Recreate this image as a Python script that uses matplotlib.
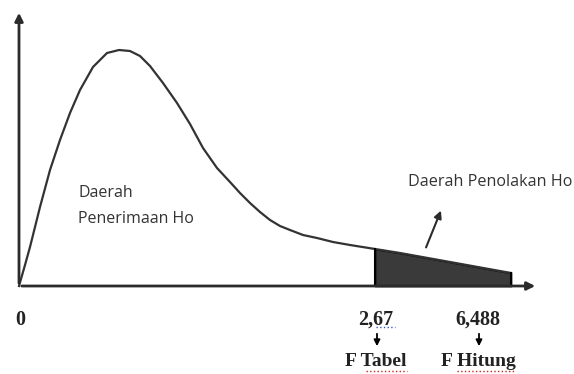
import matplotlib.pyplot as plt

# schematic F distribution curve (arbitrary units)
curve_x = [0.0, 0.6, 1.1, 2.1, 3.1, 4.1, 5.1, 6.1, 7.4, 8.8, 10.0, 11.1, 12.1,
           13.1, 14.4, 15.8, 17.1, 18.4, 19.8, 21.1, 22.1, 23.1, 24.1, 25.1,
           26.1, 27.1, 28.4, 29.8, 31.4, 33.1, 35.6, 38.1, 43.1, 49.2]
curve_y = [0.0, 2.1, 3.9, 7.9, 11.6, 14.6, 17.3, 19.6, 21.9, 23.3, 23.6, 23.5,
           23.0, 22.0, 20.3, 18.3, 16.2, 13.8, 11.8, 10.4, 9.3, 8.3, 7.4, 6.6,
           6.0, 5.6, 5.1, 4.8, 4.4, 4.1, 3.7, 3.3, 2.4, 1.3]

f_tabel = 35.6      # position of 2,67 on the sketch
f_hitung = 45.8     # position of 6,488 on the sketch
tick_labels = ["0", "2,67", "6,488"]
tick_pos = [0.0, f_tabel, f_hitung]
names = ["F Tabel", "F Hitung"]

dark = "#2b2b2b"

fig = plt.figure(figsize=(5.74, 3.74), dpi=100)
ax = fig.add_axes([0, 0, 1, 1])
ax.set_xlim(-1.9, 55.5)
ax.set_ylim(-8.8, 28.6)
ax.axis("off")

# axes with arrow heads
ax.annotate("", xy=(0, 27.6), xytext=(0, 0),
            arrowprops=dict(arrowstyle="-|>", color=dark, lw=2, mutation_scale=12))
ax.annotate("", xy=(51.9, 0), xytext=(0, 0),
            arrowprops=dict(arrowstyle="-|>", color=dark, lw=2, mutation_scale=12))

ax.plot(curve_x, curve_y, color="#333333", lw=1.6, solid_joinstyle="round")

# rejection region
sx = [x for x in curve_x if x >= f_tabel]
sy = [y for x, y in zip(curve_x, curve_y) if x >= f_tabel]
ax.fill_between(sx, 0, sy, color="#3a3a3a", edgecolor="black", lw=1.2)
ax.plot([sx[0], sx[0]], [0, sy[0]], color="black", lw=1.5)
ax.plot([sx[-1], sx[-1]], [0, sy[-1]], color="black", lw=1.5)

sans = ["Open Sans", "DejaVu Sans"]
txt = "#333333"
ax.text(5.9, 9.3, "Daerah", fontsize=11.5, family=sans, color=txt, va="center")
ax.text(5.9, 6.7, "Penerimaan Ho", fontsize=11.5, family=sans, color=txt, va="center")
ax.text(38.9, 10.4, "Daerah Penolakan Ho", fontsize=11.6, family=sans,
        color=txt, va="center")
ax.annotate("", xy=(42.3, 7.8), xytext=(40.6, 3.6),
            arrowprops=dict(arrowstyle="-|>", color=dark, lw=1.5, mutation_scale=11))

serif = "Liberation Serif"
for lab, pos in zip(tick_labels, tick_pos):
    ax.text(pos + 0.1, -3.4, lab, fontsize=14.5, family=serif, weight="bold",
            ha="center", va="center", color="#222222")

for name, pos in zip(names, tick_pos[1:]):
    ax.annotate("", xy=(pos + 0.2, -6.3), xytext=(pos + 0.2, -4.5),
                arrowprops=dict(arrowstyle="-|>", color="black", lw=1.3,
                                mutation_scale=9))
    ax.text(pos + 0.1, -7.6, name, fontsize=14, family=serif, weight="bold",
            ha="center", va="center", color="#222222")

# spell-check underlines
ax.plot([f_tabel + 0.1, f_tabel + 2.0], [-4.1, -4.1], color="#3355cc", lw=1, ls=":")
ax.plot([f_tabel - 0.9, f_tabel + 3.2], [-8.5, -8.5], color="#cc2222", lw=1, ls=":")
ax.plot([f_hitung - 2.0, f_hitung + 3.8], [-8.5, -8.5], color="#cc2222", lw=1, ls=":")

fig.savefig("out.png", dpi=100)
